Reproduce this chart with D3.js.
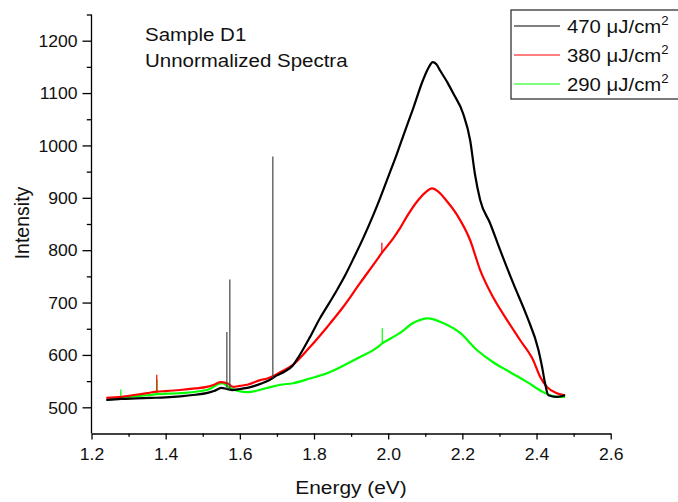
<!DOCTYPE html>
<html>
<head>
<meta charset="utf-8">
<script src="https://cdn.jsdelivr.net/npm/d3@7"></script>
<style>
  html, body { margin: 0; padding: 0; background: #fff; }
  svg { display: block; font-family: "Liberation Sans", Arial, sans-serif; }
</style>
</head>
<body>
<div id="chart"></div>
<script>
// Spectra: [energy (eV), intensity]
const black470 = [
  [1.240, 514], [1.280, 516], [1.320, 517], [1.360, 518], [1.400, 519], [1.440, 521],
  [1.480, 524], [1.510, 527], [1.530, 531], [1.550, 537], [1.565, 535], [1.580, 533],
  [1.600, 535], [1.620, 537], [1.640, 541], [1.660, 546], [1.680, 552], [1.700, 561],
  [1.720, 568], [1.743, 580], [1.760, 598], [1.789, 634], [1.816, 670],
  [1.840, 698], [1.862, 724], [1.884, 752], [1.905, 782], [1.932, 822], [1.958, 864],
  [1.978, 899], [2.000, 940], [2.024, 985], [2.045, 1027], [2.067, 1070], [2.094, 1125],
  [2.110, 1150], [2.120, 1159], [2.130, 1155], [2.140, 1143], [2.160, 1120], [2.175, 1100],
  [2.202, 1061], [2.221, 1010], [2.234, 945], [2.248, 896], [2.275, 851], [2.302, 800],
  [2.337, 737], [2.375, 672], [2.405, 610], [2.415, 577], [2.423, 546], [2.432, 523],
  [2.455, 520], [2.477, 523]
];

const red380 = [
  [1.240, 518], [1.280, 520], [1.320, 524], [1.350, 527], [1.376, 530],
  [1.400, 531], [1.439, 533], [1.480, 536], [1.511, 539], [1.530, 543], [1.547, 548],
  [1.566, 546], [1.582, 539], [1.600, 541], [1.620, 543], [1.655, 552], [1.674, 555],
  [1.709, 567], [1.743, 581], [1.789, 615], [1.835, 653], [1.878, 691], [1.924, 737],
  [1.970, 782], [1.983, 795],
  [2.013, 822], [2.032, 842], [2.051, 865], [2.078, 893], [2.100, 910], [2.118, 918],
  [2.135, 912], [2.159, 893], [2.186, 867], [2.221, 819], [2.248, 762], [2.283, 710],
  [2.321, 666], [2.356, 628], [2.391, 590], [2.410, 558], [2.428, 539], [2.455, 527],
  [2.477, 523]
];

const green290 = [
  [1.240, 514], [1.279, 518], [1.300, 520], [1.350, 523], [1.377, 525],
  [1.439, 527], [1.511, 533], [1.552, 546], [1.574, 537], [1.620, 529], [1.674, 537],
  [1.709, 543], [1.743, 546], [1.789, 555], [1.835, 565], [1.880, 580], [1.924, 596],
  [1.970, 614], [1.984, 622],
  [2.013, 634], [2.032, 642], [2.067, 661], [2.108, 670], [2.148, 661], [2.194, 642],
  [2.240, 609], [2.283, 586], [2.329, 567], [2.375, 548], [2.418, 529], [2.455, 520],
  [2.477, 520]
];

// narrow spikes: [energy, base, top]
const black470Spikes = [[1.565, 535, 644], [1.573, 534, 744], [1.689, 556, 979]];
const red380Spikes = [[1.376, 530, 562], [1.983, 795, 814]];
const green290Spikes = [[1.279, 518, 534], [1.377, 525, 553], [1.984, 622, 651]];

const seriesNames = ["470", "380", "290"];
const seriesColors = ["#000000", "#ff0000", "#00ff00"];
const seriesData = [black470, red380, green290];
const seriesSpikes = [black470Spikes, red380Spikes, green290Spikes];

const xMajorTicks = [1.2, 1.4, 1.6, 1.8, 2.0, 2.2, 2.4, 2.6];
const xMinorTicks = [1.3, 1.5, 1.7, 1.9, 2.1, 2.3, 2.5];
const yMajorTicks = [500, 600, 700, 800, 900, 1000, 1100, 1200];
const yMinorTicks = [550, 650, 750, 850, 950, 1050, 1150, 1250];
const noteLines = ["Sample D1", "Unnormalized Spectra"];

const width = 678, height = 502;
const plot = { left: 91.5, right: 610.7, top: 14.5, bottom: 433.5 };
const stretch = 1.1; // text in the source picture is a bit wider than tall

const svg = d3.select("#chart").append("svg")
  .attr("width", width)
  .attr("height", height);

const x = d3.scaleLinear().domain([1.2, 2.6]).range([plot.left, plot.right]);
const y = d3.scaleLinear().domain([450, 1250]).range([plot.bottom, plot.top]);

const line = d3.line()
  .x(d => x(d[0]))
  .y(d => y(d[1]))
  .curve(d3.curveMonotoneX);

// green first so black sits on top
[2, 1, 0].forEach(i => {
  svg.append("path")
    .datum(seriesData[i])
    .attr("d", line)
    .attr("fill", "none")
    .attr("stroke", seriesColors[i])
    .attr("stroke-width", 2.2)
    .attr("stroke-linejoin", "round");

  svg.append("g")
    .selectAll("line")
    .data(seriesSpikes[i])
    .join("line")
    .attr("x1", d => x(d[0])).attr("x2", d => x(d[0]))
    .attr("y1", d => y(d[1])).attr("y2", d => y(d[2]))
    .attr("stroke", i === 0 ? "#444" : seriesColors[i])
    .attr("stroke-width", 1.2);
});

// axes
function styleAxis(g) {
  g.select(".domain").attr("stroke", "#000").attr("stroke-width", 1.3);
  g.selectAll(".tick line").attr("stroke", "#000").attr("stroke-width", 1.3);
}

const xAxis = svg.append("g")
  .attr("transform", `translate(0,${plot.bottom})`)
  .call(d3.axisBottom(x).tickValues(xMajorTicks).tickSize(6).tickSizeOuter(0)
    .tickFormat(d3.format(".1f")))
  .call(styleAxis);
xAxis.selectAll("text")
  .attr("y", 27).attr("dy", null)
  .attr("font-size", 16).attr("fill", "#111")
  .attr("font-family", "Liberation Sans, Arial, sans-serif")
  .attr("transform", `scale(${stretch},1)`);

svg.append("g")
  .attr("transform", `translate(0,${plot.bottom})`)
  .call(d3.axisBottom(x).tickValues(xMinorTicks).tickSize(3.3).tickFormat(""))
  .call(g => g.select(".domain").remove())
  .call(styleAxis);

const yAxis = svg.append("g")
  .attr("transform", `translate(${plot.left},0)`)
  .call(d3.axisLeft(y).tickValues(yMajorTicks).tickSize(9).tickSizeOuter(0)
    .tickFormat(d3.format("d")))
  .call(styleAxis);
yAxis.select(".domain").attr("d", `M0,${plot.bottom}V${plot.top}`);
yAxis.selectAll("text")
  .attr("x", -14 / stretch).attr("y", 5.7).attr("dy", null)
  .attr("font-size", 16).attr("fill", "#111")
  .attr("font-family", "Liberation Sans, Arial, sans-serif")
  .attr("transform", `scale(${stretch},1)`);

svg.append("g")
  .attr("transform", `translate(${plot.left},0)`)
  .call(d3.axisLeft(y).tickValues(yMinorTicks).tickSize(4.7).tickFormat(""))
  .call(g => g.select(".domain").remove())
  .call(styleAxis);

// axis titles
svg.append("text")
  .attr("transform", `translate(351,494) scale(${stretch},1)`)
  .attr("text-anchor", "middle")
  .attr("font-size", 19)
  .attr("fill", "#111")
  .text("Energy (eV)");

svg.append("text")
  .attr("transform", `translate(28.5,223) rotate(-90)`)
  .attr("text-anchor", "middle")
  .attr("font-size", 19.5)
  .attr("fill", "#111")
  .text("Intensity");

// annotation
noteLines.forEach((t, i) => {
  svg.append("text")
    .attr("transform", `translate(145,${40.7 + i * 26}) scale(1.12,1)`)
    .attr("font-size", 18.3)
    .attr("fill", "#111")
    .text(t);
});

// legend
const legend = svg.append("g");
legend.append("rect")
  .attr("x", 511).attr("y", 10)
  .attr("width", 180).attr("height", 89)
  .attr("fill", "#fff")
  .attr("stroke", "#333")
  .attr("stroke-width", 1.3);

seriesNames.forEach((name, i) => {
  const ly = 26 + i * 29;
  legend.append("line")
    .attr("x1", 514).attr("x2", 560)
    .attr("y1", ly).attr("y2", ly)
    .attr("stroke", seriesColors[i])
    .attr("stroke-width", 1);
  const t = legend.append("text")
    .attr("transform", `translate(567,${ly + 7}) scale(1.1,1)`)
    .attr("font-size", 18.5)
    .attr("fill", "#111");
  t.append("tspan").text(`${name} \u03bcJ/cm`);
  t.append("tspan").attr("dy", -8).attr("font-size", 12).text("2");
});
</script>
</body>
</html>
